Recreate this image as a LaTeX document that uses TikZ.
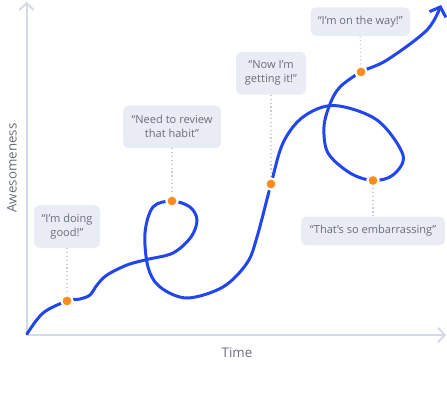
\documentclass[tikz,border=0pt]{standalone}
\usepackage{fontspec}
\setmainfont{Open Sans}
\usetikzlibrary{arrows.meta}
\definecolor{curveblue}{HTML}{2146EE}
\definecolor{dotorange}{HTML}{FF8A1E}
\definecolor{boxfill}{HTML}{E9ECF4}
\definecolor{textgray}{HTML}{6A6D7C}
\definecolor{axisgray}{HTML}{D6D9E8}
\definecolor{dotline}{HTML}{C9CBD8}
\begin{document}
\begin{tikzpicture}[x=0.75pt,y=-0.75pt,
  axis/.style={draw=axisgray, line width=1.5pt, -{Straight Barb[length=5pt,width=11pt,line width=1.5pt]}},
  curve/.style={draw=curveblue, line width=2.25pt, line cap=round, -{Straight Barb[length=6pt,width=13pt,line width=2.25pt]}},
  milestone/.style={circle, fill=dotorange, draw=white, line width=1.6pt, minimum size=8.5pt, inner sep=0pt},
  quote/.style={rounded corners=4pt, fill=boxfill, text=textgray, font=\fontsize{8.3}{10.5}\selectfont, align=center, inner sep=0pt},
  guide/.style={draw=dotline, line width=0.9pt, dotted},
  axlabel/.style={text=textgray, font=\fontsize{10}{12}\selectfont}]
\useasboundingbox (0,0) rectangle (447,406);
% axes
\coordinate (O) at (26.5,335);
\coordinate (ytop) at (26.5,2);
\coordinate (xend) at (446,335);
\draw[axis] (O) -- (ytop);
\draw[axis] (O) -- (xend);
\node[axlabel, rotate=90] (ylab) at (12,168) {Awesomeness};
\node[axlabel] (xlab) at (237,353) {Time};
% milestones
\coordinate (d1) at (67,301);
\coordinate (d2) at (172,201);
\coordinate (d3) at (271,184);
\coordinate (d4) at (373,180.5);
\coordinate (d5) at (361,72);
% boxes
\node[quote, minimum width=49.5pt, minimum height=32pt] (b1) at (67,226.5) {“I’m doing\\good!”};
\node[quote, minimum width=73.5pt, minimum height=32pt] (b2) at (172,126.7) {“Need to review\\that habit”};
\node[quote, minimum width=52.5pt, minimum height=32pt] (b3) at (271,73.3) {“Now I’m\\getting it!”};
\node[quote, minimum width=74.5pt, minimum height=21.5pt] (b4) at (360.3,21.7) {“I’m on the way!”};
\node[quote, minimum width=108pt, minimum height=21.5pt] (b5) at (373,231) {“That’s so embarrassing”};
% guides
\draw[guide] (b1.south) -- (d1);
\draw[guide] (b2.south) -- (d2);
\draw[guide] (b3.south) -- (d3);
\draw[guide] (b4.south) -- (d5);
\draw[guide] (b5.north) -- (d4);
% curve
\draw[curve] plot[smooth, tension=0.55] coordinates {
 (27,334) (43,313) (d1) (80,299) (90,295) (97,285) (107,275) (127,265) (147,259.5)
 (173,253) (191,237) (197,220) (190,207) (d2) (153,207) (145,233) (148,267)
 (160,287) (187,298) (223,287) (247,263) (257,237) (d3) (283,143) (303,117)
 (334,105.5) (377,120) (403,155) (393,175) (d4) (350,173) (328,153) (324,127)
 (330,104) (340,87) (d5) (387,60) (427,30) (441,5)};
% dots
\node[milestone] (m1) at (d1) {};
\node[milestone] (m2) at (d2) {};
\node[milestone] (m3) at (d3) {};
\node[milestone] (m4) at (d4) {};
\node[milestone] (m5) at (d5) {};
\end{tikzpicture}
\end{document}
